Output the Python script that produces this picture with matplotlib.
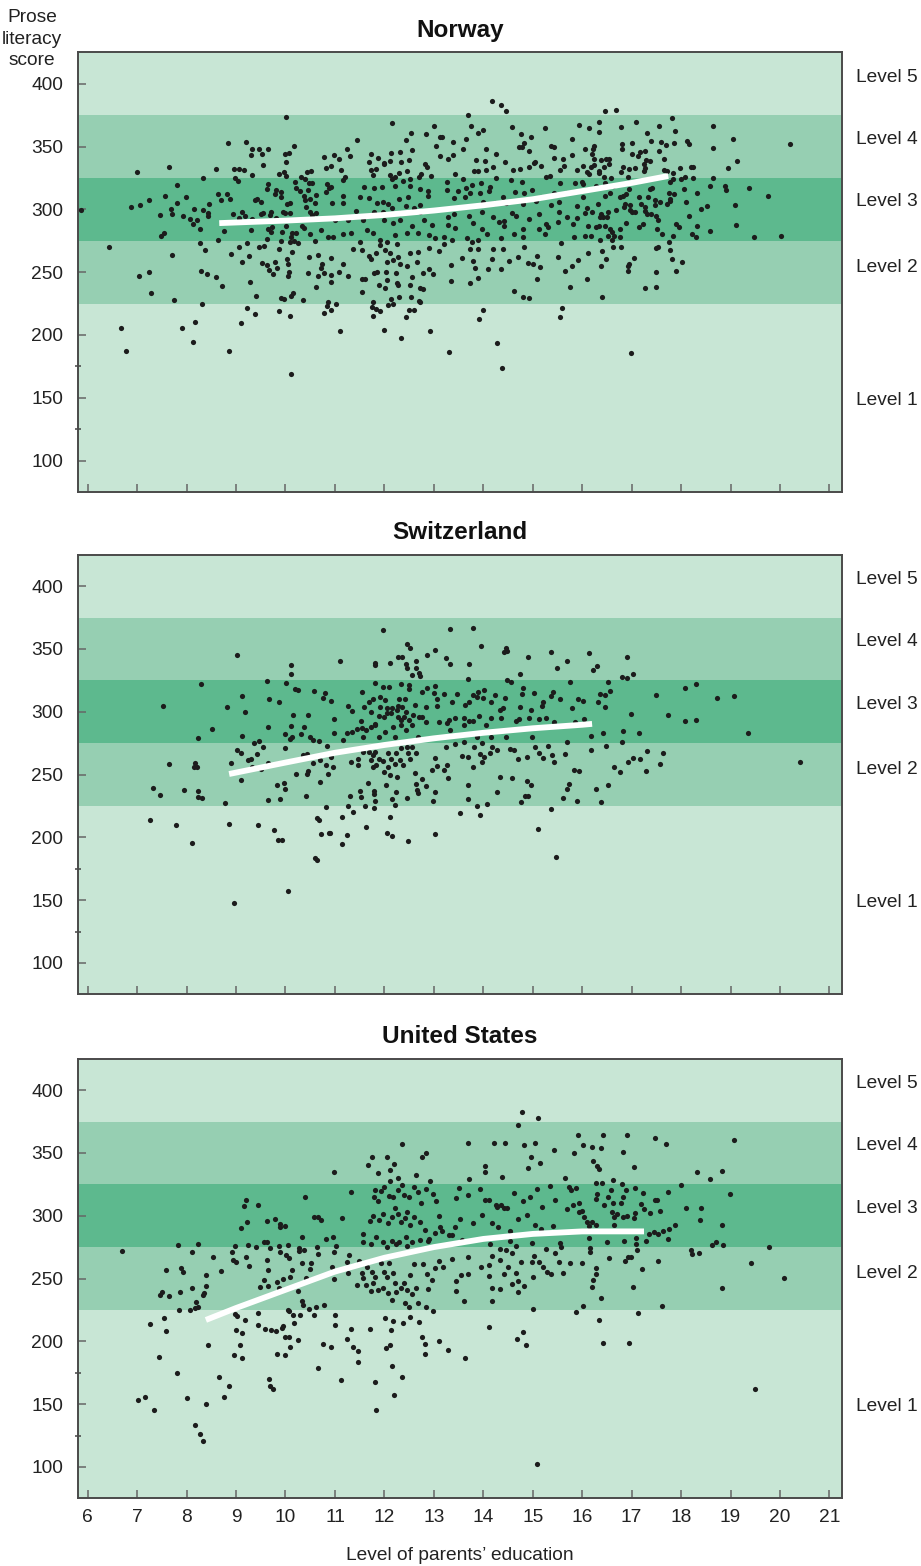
import matplotlib
matplotlib.use("Agg")
import matplotlib.pyplot as plt
import matplotlib.transforms as mtransforms

plt.rcParams['font.family'] = ['Liberation Sans', 'DejaVu Sans']

# ---------------- data ----------------
countries = ["Norway", "Switzerland", "United States"]
level_edges = [0, 225, 275, 325, 375, 500]
level_names = ["Level 1", "Level 2", "Level 3", "Level 4", "Level 5"]
level_label_y = [148, 254, 306, 355.5, 405]
y_ticks = [100, 150, 200, 250, 300, 350, 400]
y_minor = [125, 175]
x_ticks = list(range(6, 22))

norway_points = [
(10.02,373.3),(8.84,352.6),(9.20,353.4),(9.33,348.3),(9.47,347.8),(9.64,348.3),(9.31,343.5),(9.52,344.0),(10.18,350.7),(10.00,344.3),(10.08,344.9),(10.01,338.0),(9.55,335.0),(7.00,329.5),(7.64,333.7),(8.59,331.9),(8.95,332.1),(9.05,332.4),(9.17,331.1),(9.33,327.3),(8.33,325.2),(7.80,319.4),(8.98,324.7),(9.04,322.3),(9.64,319.9),(9.63,316.5),(9.80,315.4),(9.90,314.1),(9.79,312.5),(9.90,309.6),(9.87,328.1),(9.96,329.7),(10.02,326.5),(6.88,301.9),(7.06,303.5),(7.23,307.4),(7.57,310.4),(7.98,310.1),(7.80,304.8),(7.46,295.5),(7.69,300.3),(7.70,296.0),(7.93,294.7),(8.06,292.6),(8.21,291.2),(8.12,288.6),(8.15,300.0),(8.33,299.7),(8.43,297.3),(8.44,294.7),(8.46,304.0),(8.64,312.2),(8.81,312.5),(8.70,307.7),(8.88,308.5),(8.28,284.3),(7.55,281.2),(7.49,278.5),(5.86,299.7),(8.94,296.3),(9.13,297.9),(9.18,294.7),(9.06,292.8),(9.33,292.6),(8.75,283.0),(8.64,275.3),(9.31,283.8),(9.39,307.2),(9.42,308.5),(9.50,305.8),(9.50,296.3),(9.55,297.3),(9.68,295.5),(9.71,298.2),(9.80,292.8),(9.65,284.1),(9.70,282.2),(9.73,286.2),(9.62,276.7),(9.94,297.6),(10.00,296.8),(10.10,297.3),(10.04,304.0),(10.10,304.8),(10.02,287.0),(9.93,282.2),(10.14,281.4),(10.22,280.9),(10.11,277.7),(10.18,274.8),(10.25,273.5),(10.09,273.7),(9.91,274.5),(10.19,322.0),(10.21,317.3),(10.31,326.0),(10.40,324.4),(10.48,320.7),(10.53,320.9),(10.44,329.7),(10.52,330.5),(10.77,341.7),(10.81,333.0),(10.30,314.3),(10.37,310.6),(10.46,315.4),(10.62,311.7),(10.40,307.2),(10.49,308.2),(10.41,301.9),(10.60,305.3),(10.50,298.2),(10.62,297.3),(10.54,295.5),(10.83,320.2),(10.82,313.5),(10.87,317.0),(10.33,286.7),(10.38,284.9),(10.50,280.6),(10.71,283.8),(10.60,275.1),(10.85,278.2),(8.27,272.9),(8.37,267.4),(8.90,264.5),(9.05,269.7),(9.22,272.9),(9.27,262.6),(9.13,258.4),(9.46,270.3),(9.57,271.1),(9.87,268.7),(7.70,264.0),(6.44,269.9),(9.52,257.4),(9.62,255.4),(9.79,258.4),(9.83,253.3),(9.67,251.4),(9.75,248.8),(10.04,260.5),(10.06,256.2),(10.14,266.3),(10.07,250.4),(10.06,247.0),(10.48,261.8),(10.66,263.4),(10.73,256.5),(10.72,253.3),(10.78,249.1),(10.65,247.0),(10.46,249.1),(10.62,237.9),(7.04,246.7),(7.23,250.1),(7.28,233.4),(7.74,227.6),(8.30,250.9),(8.41,248.3),(8.59,246.2),(8.72,239.2),(9.29,241.9),(9.41,230.7),(9.90,229.4),(9.96,228.3),(10.11,231.3),(10.16,233.4),(10.35,227.8),(8.32,224.4),(10.85,226.0),(10.83,223.3),(10.78,217.7),(9.23,221.7),(9.38,216.4),(9.86,219.1),(10.09,215.1),(9.11,209.5),(6.67,205.8),(7.91,205.3),(8.18,210.3),(8.12,194.6),(6.77,187.2),(8.85,187.5),(10.12,168.6),
(14.18,386.5),(14.36,383.3),(14.46,378.3),(13.69,374.8),(12.16,369.0),(13.01,366.4),(13.76,366.6),(13.99,363.2),(13.90,361.0),(14.59,365.6),(15.24,364.5),(15.94,367.4),(12.53,360.8),(12.84,360.0),(13.12,357.6),(13.17,357.6),(14.76,359.7),(14.96,357.6),(15.80,356.0),(11.45,355.2),(12.44,354.9),(13.39,353.6),(13.66,356.0),(13.05,350.7),(14.82,352.6),(14.72,349.4),(14.78,349.4),(15.36,350.2),(15.44,349.9),(11.24,348.0),(12.56,347.3),(12.32,346.0),(12.13,344.6),(11.72,344.1),(13.38,343.3),(13.59,347.8),(14.05,347.8),(14.25,344.1),(14.92,346.5),(10.99,343.3),(11.31,342.2),(11.08,340.1),(11.87,340.9),(12.11,338.8),(12.33,337.7),(12.50,339.3),(13.13,342.5),(13.28,339.9),(13.85,339.3),(14.03,338.5),(14.44,338.0),(15.05,337.7),(15.42,341.0),(15.62,339.9),(15.80,343.0),(12.83,336.1),(11.68,337.7),(11.99,337.2),(10.93,334.5),(11.12,331.3),(11.72,331.3),(11.84,332.1),(11.99,335.9),(12.11,327.3),(12.30,328.6),(12.46,330.8),(12.75,328.1),(12.87,333.5),(13.43,328.4),(13.81,330.5),(13.89,330.5),(14.06,331.3),(14.20,333.5),(14.61,331.3),(14.75,332.4),(14.93,334.0),(15.02,337.2),(15.16,334.8),(15.34,326.3),(15.55,331.3),(15.64,334.2),(15.89,331.6),
(11.20,326.0),(11.16,323.1),(11.76,327.1),(12.15,324.4),(12.21,326.0),(12.37,322.9),(12.52,324.4),(12.69,326.0),(12.94,326.3),(13.27,321.8),(13.58,324.2),(13.78,319.4),(13.95,320.7),(14.14,317.5),(14.26,324.7),(14.56,323.4),(14.78,321.5),(14.98,315.4),(15.27,325.5),(15.55,320.7),(15.86,320.7),(10.92,318.0),(11.59,318.0),(11.78,316.7),(11.96,317.5),(12.22,318.6),(12.52,318.6),(12.73,315.9),(12.88,314.9),(13.26,315.4),(13.49,314.6),(13.65,317.2),(13.73,313.0),(13.93,312.7),(14.12,314.6),(14.39,309.6),(14.64,313.5),(14.83,313.3),(15.16,310.1),(15.43,312.7),(15.67,313.0),(11.16,310.6),(11.50,310.1),(11.68,309.3),(11.98,306.1),(12.29,307.9),(12.48,310.1),(12.73,303.7),(12.89,310.9),(13.41,308.8),(13.62,309.6),(14.00,306.1),(14.23,304.8),(14.46,305.3),(14.81,304.0),(15.06,306.4),(15.36,303.4),(15.53,305.6),(15.89,302.9),(10.95,305.3),(11.16,304.8),(11.43,298.7),(11.86,304.8),(12.08,304.3),(12.44,302.9),(12.59,300.8),(12.16,300.8),(11.78,298.2),(11.98,298.2),(12.32,296.8),(12.72,297.9),(13.28,294.2),(13.40,296.3),(13.72,294.7),(13.98,297.6),(14.19,293.6),(14.41,291.0),(14.58,297.3),(14.67,295.0),(14.93,292.0),(15.13,296.3),(15.27,288.3),(15.54,298.2),(15.69,294.2),(15.89,292.8),(11.01,291.5),(11.26,291.5),(11.57,291.5),(11.99,291.5),(12.18,288.9),(12.32,291.5),(12.56,287.0),(12.80,291.5),(12.96,287.3),(13.28,287.5),(13.43,285.4),(13.80,289.4),(13.97,284.1),(14.08,280.4),(14.31,290.2),(14.42,287.0),(14.81,284.4),(15.13,284.4),(15.31,285.7),(15.52,289.7),(15.82,288.1),
(10.97,278.2),(11.17,280.4),(11.33,281.2),(11.64,283.5),(11.76,280.9),(11.91,275.6),(12.05,274.3),(12.21,279.6),(12.45,280.9),(12.67,280.9),(12.91,279.6),(13.03,276.9),(13.21,278.2),(13.36,275.6),(13.68,276.9),(13.77,274.3),(13.89,275.6),(14.36,277.4),(14.63,280.4),(14.81,277.7),(15.25,280.6),(15.58,273.5),(15.83,278.0),(11.51,274.3),(11.91,271.6),(12.01,267.6),(12.25,272.4),(12.11,265.5),(11.54,267.6),(11.36,268.7),(10.92,261.0),(11.68,262.8),(11.84,265.5),(12.18,259.7),(12.28,262.3),(12.52,264.9),(12.67,266.3),(12.91,269.2),(13.11,266.8),(13.21,272.1),(13.73,268.1),(13.89,268.7),(14.20,268.1),(14.40,268.4),(14.51,259.1),(14.71,262.3),(14.82,270.3),(15.09,263.1),(15.51,262.1),(11.16,256.5),(11.72,260.2),(12.05,257.8),(12.32,256.5),(12.46,254.9),(12.65,258.3),(12.24,249.0),(11.86,250.1),(11.78,249.0),(12.03,249.8),(11.08,250.4),(10.93,242.4),(10.93,247.4),(11.27,246.9),(11.54,244.5),(11.61,244.5),(12.06,243.7),(12.25,241.1),(12.56,246.4),(12.79,249.0),(12.90,252.2),(12.98,248.8),(13.34,255.7),(13.56,261.3),(13.80,258.6),(13.84,253.0),(13.89,245.6),(13.73,241.3),(14.10,252.8),(14.18,260.5),(14.36,252.2),(14.90,257.5),(15.00,256.2),(15.15,254.1),(15.09,244.5),(15.66,250.6),(15.80,254.6),(15.92,259.7),(11.55,234.2),(11.89,239.7),(12.01,237.1),(12.28,239.5),(12.52,239.8),(12.73,237.6),(12.79,236.3),(13.34,242.7),(14.63,235.0),(14.80,230.2),(14.93,229.4),(15.76,237.9),(12.30,230.5),(12.53,230.5),(12.13,228.6),(12.69,227.3),(12.72,226.0),(11.03,224.4),(11.76,226.5),(11.74,222.2),(12.07,223.6),(12.18,224.4),(11.84,220.4),(11.91,219.0),(12.50,219.6),(12.60,219.6),(10.93,219.8),(11.76,215.1),(12.44,214.3),(14.00,219.6),(13.91,212.4),(15.60,221.2),(15.56,214.3),(11.10,202.9),(11.99,203.9),(12.34,197.6),(12.92,203.1),(13.31,186.4),(14.28,193.8),(14.38,173.7),
(16.46,378.3),(16.69,379.4),(16.35,369.3),(17.08,369.3),(17.82,372.5),(16.78,365.6),(16.14,364.5),(16.34,361.6),(17.32,361.0),(17.56,366.1),(17.88,362.1),(18.64,366.3),(19.04,356.0),(20.20,351.8),(16.81,352.0),(17.01,352.6),(17.39,354.1),(17.60,353.3),(17.70,350.9),(17.86,352.8),(18.12,354.7),(18.15,351.8),(18.64,348.8),(16.06,348.0),(16.23,350.4),(16.22,348.3),(16.80,348.0),(16.19,344.3),(17.00,343.8),(17.13,342.7),(17.17,345.4),(17.28,346.4),(17.55,346.2),(16.24,340.1),(16.39,339.5),(16.49,339.8),(16.54,340.1),(17.30,339.0),(17.37,338.8),(17.66,340.3),(19.14,338.8),(16.54,336.1),(17.26,335.8),(16.02,334.5),(16.17,334.0),(16.23,335.3),(16.45,333.4),(16.82,334.0),(16.94,331.9),(17.07,332.9),(17.24,330.3),(17.28,332.9),(17.66,331.3),(17.71,330.3),(17.98,333.2),(18.21,333.7),(18.24,333.4),(18.95,332.9),(16.09,330.0),(16.14,328.4),(16.33,330.5),(16.33,328.6),(16.79,330.0),(16.44,326.0),(16.58,325.2),(16.92,325.5),(17.84,328.7),(17.83,324.2),(17.99,324.4),(18.08,326.0),(18.25,325.2),(18.65,324.7),(17.77,321.8),(15.99,321.5),(16.02,319.9),(16.28,318.8),(16.47,320.7),(16.63,318.6),(18.58,318.6),(18.89,318.8),(18.91,315.4),(19.37,316.7),(16.94,316.2),(17.37,316.2),(17.42,317.0),(18.06,316.5),(16.56,313.3),(16.02,309.6),(16.46,310.6),(16.76,309.6),(16.82,310.4),(16.89,312.2),(17.14,310.1),(17.34,309.6),(17.75,313.0),(17.86,312.2),(18.32,313.0),(19.76,310.9),(16.32,304.0),(16.85,302.1),(16.87,304.3),(16.97,303.7),(17.18,304.5),(17.28,302.1),(17.47,307.4),(17.47,303.4),(17.57,305.6),(17.71,304.3),(17.77,308.2),(17.78,306.6),(18.09,306.1),(18.40,300.2),(18.52,302.4),(19.10,303.7),(16.10,300.8),(16.06,297.3),(16.19,298.2),(16.39,296.0),(16.53,297.6),(16.68,299.2),(16.97,299.2),(17.01,297.9),(17.07,297.9),(17.28,298.9),(17.31,296.6),(17.40,296.0),(17.50,294.4),(17.53,291.3),(18.15,294.4),(16.37,293.6),(16.43,294.2),(16.50,294.2),(16.11,286.7),(16.28,286.2),(16.33,286.5),(16.47,286.7),(16.57,284.3),(16.76,284.1),(16.88,289.4),(17.15,285.7),(17.22,288.1),(17.51,284.6),(17.61,280.4),(17.84,279.0),(17.90,288.6),(17.96,285.9),(18.22,280.1),(18.31,278.0),(18.32,287.0),(18.58,282.5),(19.12,287.5),(19.47,277.7),(20.03,278.5),(16.06,278.8),(16.17,278.8),(16.60,281.7),(16.53,278.8),(16.64,278.8),(16.77,278.2),(16.37,275.9),(16.60,275.6),(17.76,274.0),(16.63,269.7),(16.79,270.0),(17.50,269.5),(17.54,270.3),(17.77,267.9),(16.11,265.3),(16.40,266.6),(16.49,260.7),(17.05,261.5),(17.82,260.5),(18.01,257.8),(16.39,255.1),(16.92,255.1),(16.95,256.7),(16.93,250.6),(17.49,249.8),(17.89,250.6),(16.10,244.5),(17.28,237.6),(17.49,238.4),(16.41,230.2),(16.99,185.3),
]

switzerland_points = [
(9.02,345.4),(10.12,337.4),(10.12,329.7),(8.30,321.8),(9.63,324.2),(10.01,322.8),(10.19,317.8),(10.25,317.0),(10.58,316.7),(10.79,314.9),(10.76,311.1),(7.53,304.2),(9.13,312.7),(9.67,310.1),(9.87,307.4),(8.82,303.4),(9.18,300.0),(10.15,297.6),(10.45,297.3),(8.51,286.2),(9.65,288.0),(10.12,288.8),(10.38,287.8),(9.98,282.5),(10.32,282.0),(10.49,280.1),(10.55,277.4),(10.68,276.6),(10.14,279.8),(10.09,278.5),(8.24,279.0),(9.12,280.9),(9.36,275.1),(9.46,276.6),(9.55,271.9),(9.98,271.3),(10.84,272.4),(9.01,269.7),(9.11,267.1),(9.42,266.0),(9.24,261.8),(9.31,262.0),(8.89,259.4),(9.64,259.4),(9.50,254.1),(9.32,256.2),(10.35,265.8),(10.43,266.0),(10.70,261.5),(10.56,259.4),(10.81,257.5),(10.46,253.0),(10.43,250.4),(10.22,250.6),(10.85,250.6),(7.65,258.3),(8.18,258.9),(8.15,256.2),(8.22,255.9),(9.10,245.3),(9.83,241.3),(9.96,243.2),(10.00,238.2),(10.69,244.3),(7.33,239.5),(7.47,233.4),(7.95,237.6),(8.24,236.8),(8.24,232.1),(8.31,231.3),(8.78,227.0),(9.65,229.4),(9.89,230.2),(10.41,233.1),(10.81,224.1),(7.25,213.5),(7.79,209.8),(8.86,210.6),(9.44,209.8),(9.77,205.5),(9.85,198.1),(9.92,197.6),(10.64,215.3),(10.67,214.0),(10.71,202.6),(10.88,203.7),(8.11,195.4),(10.60,183.8),(10.63,181.6),(10.05,157.5),(8.96,147.9),
(11.97,364.7),(13.33,365.5),(13.80,366.6),(12.45,353.6),(12.52,350.9),(13.95,352.3),(14.45,350.4),(14.42,347.8),(14.48,348.3),(15.37,347.2),(11.10,340.6),(11.82,338.7),(11.81,337.4),(12.12,338.7),(12.28,343.8),(12.35,343.5),(12.44,337.9),(12.64,340.6),(12.87,345.4),(13.03,348.8),(13.25,343.0),(13.32,337.7),(13.72,337.7),(14.91,343.2),(15.70,340.3),(15.49,334.5),(12.45,334.7),(12.63,334.7),(12.55,328.9),(12.69,330.8),(12.73,328.1),(14.74,329.7),(13.70,325.7),(14.47,324.9),(14.57,323.9),(15.75,323.6),(11.80,322.6),(11.55,315.9),(11.98,319.4),(12.09,319.6),(12.33,322.0),(12.50,321.2),(12.50,318.3),(12.77,315.6),(12.86,318.8),(13.03,320.4),(13.00,314.9),(13.21,314.3),(13.46,314.3),(13.79,313.5),(13.90,315.9),(14.02,317.5),(14.24,313.5),(14.43,310.9),(14.78,314.3),(14.80,318.6),(15.03,314.9),(15.37,312.7),(15.40,315.4),(15.55,310.1),(15.92,310.1),
(10.93,308.5),(11.27,304.5),(11.35,300.8),(11.59,304.0),(11.68,307.4),(11.76,310.4),(11.91,311.9),(12.01,309.3),(12.15,302.7),(12.05,303.2),(11.92,303.4),(12.28,304.5),(12.35,303.4),(12.42,310.1),(12.29,310.1),(12.25,301.3),(12.44,300.0),(12.61,305.3),(12.85,304.0),(13.07,309.8),(13.07,304.5),(13.36,308.0),(13.64,305.0),(13.72,308.0),(13.87,311.7),(13.99,310.9),(14.15,308.0),(14.34,301.3),(14.39,302.7),(14.74,303.4),(14.97,301.3),(15.19,304.2),(15.20,308.0),(15.79,302.7),(10.99,294.1),(11.53,292.8),(11.73,300.0),(11.82,290.2),(11.73,288.1),(11.90,296.5),(11.99,295.5),(12.05,298.7),(12.13,299.2),(12.28,296.0),(12.34,293.3),(12.40,295.5),(12.49,293.3),(12.57,297.3),(12.69,296.0),(12.76,295.5),(12.85,291.5),(13.11,292.0),(13.26,290.7),(13.30,293.3),(13.43,295.2),(13.60,294.7),(13.60,289.1),(13.72,292.8),(13.79,292.6),(13.92,296.8),(14.05,289.1),(14.16,294.7),(14.35,294.7),(14.67,292.6),(14.73,294.4),(14.93,295.2),(15.13,293.9),(15.27,295.0),(15.43,292.0),(15.85,292.0),
(10.99,283.3),(11.16,277.4),(11.24,282.7),(11.35,284.1),(11.44,285.9),(11.55,287.2),(11.57,279.6),(11.63,285.4),(11.82,289.4),(11.90,280.1),(12.01,283.8),(12.18,288.0),(12.21,279.6),(12.34,289.4),(12.44,285.4),(12.55,289.4),(12.67,279.6),(13.33,285.4),(13.43,274.2),(13.60,276.1),(13.87,279.6),(13.97,275.3),(14.15,280.1),(14.45,279.6),(14.98,280.1),(15.70,276.1),(10.92,264.2),(11.47,262.6),(11.47,257.5),(11.32,259.7),(11.57,268.1),(11.68,268.1),(11.76,265.2),(11.81,268.1),(11.72,261.5),(11.90,262.0),(11.97,260.5),(12.08,266.8),(12.13,262.0),(12.21,258.3),(12.23,266.8),(12.32,261.5),(12.33,270.8),(12.45,271.6),(12.48,266.8),(12.52,262.0),(12.55,272.1),(12.64,267.3),(12.08,256.2),(12.00,252.2),(12.11,249.6),(12.25,247.7),(12.37,257.5),(11.84,257.5),(11.76,255.7),(10.96,255.7),(12.62,251.4),(12.77,246.4),(12.96,253.3),(13.03,263.4),(13.07,257.0),(13.21,253.5),(13.26,257.5),(13.29,247.2),(13.25,271.6),(13.56,264.7),(13.70,264.2),(13.79,255.7),(13.81,272.1),(13.93,266.3),(13.97,260.2),(14.02,263.7),(14.14,267.1),(14.18,272.1),(14.28,269.7),(14.55,270.3),(14.63,269.7),(14.70,262.0),(14.88,264.2),(15.05,272.1),(15.13,267.3),(15.21,263.1),(15.30,272.9),(15.39,265.2),(15.42,260.2),(15.65,266.0),(15.83,253.3),(15.93,252.5),
(11.66,243.5),(11.51,237.1),(11.78,237.1),(11.79,234.4),(11.30,232.8),(11.53,232.3),(11.81,228.9),(11.61,224.9),(11.78,223.3),(11.27,224.9),(11.37,220.1),(11.15,216.1),(12.03,241.3),(12.15,230.2),(12.21,225.9),(12.23,235.8),(12.46,231.3),(12.64,242.1),(12.65,237.4),(12.67,235.5),(12.85,240.5),(12.98,228.9),(13.03,236.0),(12.12,216.1),(11.62,208.4),(10.90,203.7),(11.24,201.8),(11.15,194.9),(12.06,203.7),(12.15,201.3),(12.47,197.3),(13.03,202.9),(13.53,219.3),(13.70,241.6),(13.70,230.2),(13.87,225.2),(13.93,217.7),(14.08,226.7),(14.28,236.0),(14.34,247.7),(14.58,247.4),(14.84,233.1),(14.90,233.1),(14.89,244.8),(14.97,241.9),(14.76,228.1),(15.11,206.3),(15.37,222.2),(15.47,184.0),(15.61,231.0),(15.69,238.5),(15.73,242.1),(15.90,228.9),
(16.13,347.0),(16.90,343.3),(16.30,336.1),(16.22,333.2),(16.81,327.6),(16.91,327.1),(17.03,329.7),(16.53,323.9),(18.08,318.8),(18.31,321.8),(16.36,314.1),(16.47,313.3),(16.57,316.2),(17.49,313.3),(18.73,310.9),(19.08,312.2),(16.01,308.2),(16.31,307.4),(16.47,304.0),(16.99,297.9),(17.73,297.1),(18.08,292.3),(18.31,293.1),(16.04,294.2),(16.18,280.9),(16.42,283.0),(16.83,284.6),(17.14,282.7),(16.80,276.1),(19.36,283.0),(16.49,272.7),(16.18,269.2),(17.31,268.4),(17.64,267.1),(17.02,263.1),(17.16,262.3),(16.93,259.9),(17.58,258.6),(16.65,256.2),(16.76,252.0),(17.30,252.5),(20.41,259.7),(16.27,238.2),(16.53,241.3),(16.39,227.8),
]

us_points = [
(10.39,314.9),(9.21,312.5),(9.16,307.7),(9.44,308.8),(9.11,290.5),(9.23,295.0),(9.62,295.5),(9.78,297.4),(9.89,293.4),(9.89,291.3),(10.00,291.8),(10.58,299.3),(10.66,299.3),(10.71,296.6),(10.33,283.1),(10.81,281.2),(6.69,271.9),(7.82,277.0),(8.24,277.8),(8.10,270.8),(8.97,276.2),(8.92,270.8),(8.53,266.9),(8.70,255.7),(8.94,264.5),(8.99,263.4),(9.21,267.4),(9.24,276.4),(9.40,274.8),(9.56,279.1),(9.63,279.1),(9.69,274.3),(9.87,276.2),(9.88,271.4),(10.05,276.4),(10.02,268.5),(10.08,266.3),(10.28,274.3),(10.38,272.4),(10.27,271.9),(10.64,275.4),(10.65,269.8),(9.26,260.2),(9.62,265.0),(9.65,257.0),(9.57,249.1),(9.49,243.2),(9.64,243.8),(9.82,247.2),(9.86,242.7),(9.94,249.6),(10.09,251.5),(10.14,256.5),(10.33,262.4),(10.52,262.4),(10.49,257.6),(10.42,250.1),(10.25,239.8),(10.34,231.8),(10.35,228.7),(10.47,226.0),(10.61,227.3),(10.78,228.7),(7.58,257.1),(7.88,258.1),(7.93,255.2),(8.39,252.5),(8.39,244.0),(8.36,238.2),(8.33,236.9),(7.47,237.1),(7.51,239.0),(7.65,236.3),(7.87,239.5),(8.10,242.2),(8.20,231.3),(8.24,227.1),(8.18,226.3),(7.85,225.2),(8.06,224.7),(7.55,218.6),(7.25,213.5),(7.59,208.5),(8.97,221.5),(9.01,220.4),(9.19,217.0),(9.44,222.6),(9.44,213.0),(8.99,208.8),(9.13,206.6),(9.59,210.1),(9.71,208.8),(9.80,208.5),(9.92,210.3),(9.94,212.5),(10.05,224.9),(10.07,223.9),(10.16,220.7),(10.29,221.2),(10.58,221.2),(10.17,214.3),(10.08,203.7),(9.98,203.7),(10.25,201.1),(10.10,195.2),(9.82,189.6),(9.98,188.8),(10.76,197.6),(10.65,178.5),(9.08,196.8),(8.95,189.4),(9.13,186.7),(8.44,197.1),(7.45,187.2),(7.80,175.0),(8.66,171.3),(8.85,164.7),(9.67,169.7),(9.68,164.7),(9.75,162.0),(8.76,155.9),(8.01,154.6),(8.39,150.4),(7.02,153.3),(7.16,155.4),(7.35,145.6),(8.18,133.4),(8.28,126.2),(8.33,120.4),
(14.79,382.8),(15.10,378.1),(14.70,372.0),(12.36,357.4),(13.70,357.6),(14.22,358.2),(14.43,358.2),(14.82,356.6),(15.05,357.6),(15.92,364.3),(15.44,352.6),(15.84,350.2),(11.74,347.0),(12.05,347.0),(11.66,340.7),(12.19,341.4),(12.12,336.1),(11.88,334.0),(12.77,346.7),(12.84,349.7),(10.99,334.8),(12.63,332.4),(12.28,329.8),(12.11,327.9),(12.93,327.6),(13.72,329.5),(14.04,339.6),(14.04,335.1),(14.37,330.6),(14.97,347.0),(15.14,342.2),(14.90,337.7),(15.66,330.0),(15.73,323.1),(15.88,321.8),(15.77,320.5),(11.32,318.9),(11.80,320.2),(11.94,320.0),(12.00,323.1),(12.09,315.7),(12.18,314.6),(12.28,320.5),(12.35,324.5),(12.40,316.5),(12.50,314.6),(12.60,323.1),(12.67,318.9),(12.75,309.9),(12.85,321.5),(12.99,317.0),(13.05,311.5),(13.51,322.1),(13.45,314.4),(13.70,316.2),(13.93,321.0),(14.03,312.2),(14.12,312.5),(14.25,308.3),(14.35,308.5),(14.47,305.9),(14.63,317.8),(14.80,311.7),(14.94,314.6),(15.08,321.3),(15.18,307.2),(15.35,323.9),(15.46,312.5),(15.69,305.6),(15.81,308.5),(15.93,310.1),(11.78,314.6),(11.88,311.7),
(11.14,298.5),(11.70,295.8),(11.76,299.8),(11.90,296.6),(11.98,301.4),(12.08,293.9),(12.15,299.3),(12.21,306.4),(12.28,301.4),(12.33,295.3),(12.42,297.9),(12.46,303.2),(12.52,292.6),(12.60,299.3),(12.73,295.3),(12.83,288.6),(12.91,281.2),(13.03,286.0),(13.11,299.8),(13.12,291.3),(13.31,284.9),(13.43,290.8),(13.52,297.1),(13.80,294.5),(13.97,300.3),(14.17,294.5),(14.27,307.2),(14.41,305.9),(14.30,291.3),(14.54,287.8),(14.71,297.1),(14.88,300.6),(15.05,292.3),(15.17,289.2),(15.40,292.1),(15.94,303.0),(10.97,283.1),(11.03,276.2),(10.98,271.4),(11.57,285.2),(11.57,279.4),(11.73,277.2),(11.83,283.3),(11.98,279.4),(12.06,275.4),(12.15,280.1),(12.23,277.5),(12.30,279.4),(12.44,283.3),(12.45,275.9),(12.55,278.8),(12.71,280.7),(12.88,280.1),(13.16,287.6),(13.36,284.7),(13.56,280.7),(14.14,277.5),(14.34,273.5),(14.46,272.7),(14.55,280.1),(14.66,275.6),(14.99,278.0),(15.26,273.5),(15.55,278.0),(15.58,275.4),
(11.28,268.7),(11.49,264.0),(10.95,259.4),(11.24,263.4),(11.27,254.1),(10.98,249.4),(11.54,254.7),(11.44,244.9),(11.57,250.2),(11.65,258.9),(11.74,255.5),(11.76,246.2),(11.81,251.5),(11.73,240.3),(11.63,244.9),(11.94,262.1),(12.00,255.5),(12.05,251.5),(12.10,262.1),(12.18,254.1),(12.21,246.2),(11.88,240.9),(11.98,242.2),(12.08,238.2),(12.15,232.9),(12.23,239.5),(12.33,242.2),(12.40,246.2),(12.46,240.9),(12.52,252.8),(12.56,237.7),(12.42,230.3),(12.50,227.6),(12.67,230.3),(12.64,242.2),(12.87,253.6),(12.97,248.8),(12.89,241.9),(12.84,227.1),(12.99,224.2),(12.59,261.4),(12.79,261.9),(13.03,258.0),(13.11,264.0),(13.19,258.9),(13.37,265.3),(13.44,248.3),(13.45,240.3),(13.54,252.8),(13.60,231.8),(13.70,266.9),(13.70,253.3),(13.95,259.4),(14.11,261.0),(14.12,252.0),(14.18,268.2),(14.18,242.2),(14.18,231.8),(14.34,265.0),(14.34,241.7),(14.41,253.6),(14.49,259.4),(14.59,270.0),(14.59,245.4),(14.67,254.7),(14.70,248.0),(14.70,239.0),(14.82,244.1),(14.76,262.9),(14.99,263.4),(15.03,268.2),(15.00,251.5),(15.12,263.4),(15.21,259.4),(15.28,255.5),(15.36,253.3),(15.46,270.6),(15.54,262.9),(15.62,254.7),(15.75,262.1),(15.01,225.5),(15.87,223.6),
(11.01,221.0),(11.01,213.0),(11.32,210.1),(10.93,195.2),(11.24,201.6),(11.36,195.7),(11.47,192.3),(11.47,183.5),(11.13,169.5),(11.70,209.8),(12.01,218.3),(12.13,209.0),(12.18,216.4),(12.38,214.9),(12.52,219.6),(12.69,215.1),(12.03,194.4),(12.11,197.1),(12.16,180.4),(11.80,167.4),(12.36,171.6),(12.19,157.6),(11.84,145.1),(12.77,203.7),(12.82,197.9),(12.82,189.6),(13.10,200.3),(13.29,192.8),(13.62,187.0),(14.11,211.4),(14.68,202.1),(14.81,207.7),(14.87,196.8),(15.09,102.1),
(16.42,364.5),(16.91,364.5),(17.48,361.9),(17.70,357.1),(19.08,360.0),(16.02,356.3),(16.20,355.0),(16.39,354.2),(16.83,351.0),(16.21,343.3),(16.29,339.9),(16.35,337.5),(17.05,338.8),(18.33,334.5),(18.58,329.5),(18.83,335.3),(16.27,326.3),(16.41,326.3),(16.62,328.2),(16.80,325.5),(18.00,324.7),(16.58,320.7),(16.88,320.2),(17.07,321.8),(17.22,317.8),(17.73,318.9),(18.98,317.6),(16.30,317.3),(16.27,313.6),(16.53,314.6),(16.82,314.6),(16.78,310.4),(16.62,310.1),(16.44,308.3),(17.18,309.3),(17.48,312.5),(17.51,312.5),(17.26,305.4),(17.37,302.2),(17.57,303.8),(18.10,305.9),(18.41,305.9),(15.99,303.8),(16.03,299.3),(16.61,302.7),(16.71,301.4),(16.65,298.7),(16.82,299.3),(16.91,299.5),(17.05,298.2),(17.07,302.2),(16.09,295.3),(16.20,295.0),(16.27,292.9),(16.14,291.6),(16.64,292.9),(17.88,292.6),(18.38,296.3),(18.82,292.9),(17.36,285.5),(17.45,286.8),(17.54,285.5),(17.64,287.8),(17.76,289.7),(16.13,282.0),(16.51,279.4),(16.85,280.1),(17.09,282.3),(17.09,277.5),(17.30,279.9),(17.74,281.5),(16.15,274.6),(16.16,271.4),(17.10,272.7),(18.20,272.4),(18.22,269.8),(18.37,270.3),(18.63,276.7),(18.70,278.8),(18.85,276.4),(19.78,275.1),(16.55,266.6),(16.93,267.4),(16.99,267.4),(16.87,264.0),(17.53,264.2),(19.41,262.6),(15.99,262.1),(16.28,258.4),(16.28,253.9),(17.21,257.9),(16.22,249.1),(16.19,243.2),(17.02,243.0),(18.82,242.7),(20.08,250.2),(16.39,234.8),(16.01,228.1),(17.62,228.1),(17.12,222.5),(16.33,217.0),(16.43,198.4),(16.94,198.9),(19.49,161.8),
]

# fitted trend curves
norway_trend_x = [8.66, 10.0, 11.0, 12.0, 13.0, 14.0, 15.0, 16.0, 17.0, 17.74]
norway_trend_y = [289.0, 291.0, 292.8, 295.5, 299.0, 303.2, 308.0, 314.5, 321.0, 326.5]
swiss_trend_x = [8.86, 10.0, 11.0, 12.0, 13.0, 14.0, 15.0, 16.0, 16.2]
swiss_trend_y = [250.4, 259.5, 267.3, 273.5, 278.8, 283.2, 286.8, 289.6, 290.3]
us_trend_x = [8.39, 9.0, 10.0, 11.0, 12.0, 13.0, 14.0, 15.0, 16.0, 17.25]
us_trend_y = [217.0, 226.5, 241.0, 255.5, 266.5, 275.0, 281.5, 285.5, 287.5, 287.5]

panels = [
    (norway_points, norway_trend_x, norway_trend_y),
    (switzerland_points, swiss_trend_x, swiss_trend_y),
    (us_points, us_trend_x, us_trend_y),
]

# ---------------- style ----------------
band_colors = ['#c8e6d5', '#96cfb2', '#5db98e', '#96cfb2', '#c8e6d5']
dot_color = '#1c1c1c'
spine_color = '#4a4a4a'
txt_size = 13.8
W, H = 921, 1566
fig = plt.figure(figsize=(W / 100, H / 100), dpi=100)

ax_left = 78.3 / W
ax_width = (842 - 78.3) / W
ax_height = 439.6 / H
ax_bottoms = [1 - 491.9 / H, 1 - 994.3 / H, 1 - 1498.3 / H]

for i, (name, (pts, tx, ty), bottom) in enumerate(zip(countries, panels, ax_bottoms)):
    ax = fig.add_axes([ax_left, bottom, ax_width, ax_height])
    ax.set_xlim(5.81, 21.254)
    ax.set_ylim(75, 425)
    for k in range(5):
        ax.axhspan(level_edges[k], level_edges[k + 1], color=band_colors[k], lw=0, zorder=0)
    xs = [p[0] for p in pts]
    ys = [p[1] for p in pts]
    ax.scatter(xs, ys, s=14, color=dot_color, linewidths=0, zorder=3)
    ax.plot(tx, ty, color='white', lw=4.2, solid_capstyle='butt', zorder=4)

    for sp in ax.spines.values():
        sp.set_color(spine_color)
        sp.set_linewidth(1.4)
    ax.set_yticks(y_ticks)
    ax.set_yticks(y_minor, minor=True)
    ax.set_xticks(x_ticks)
    ax.tick_params(axis='y', which='major', direction='in', length=6, width=1.1,
                   color='#666666', labelsize=txt_size, pad=11, labelcolor='#222222')
    ax.tick_params(axis='y', which='minor', direction='inout', length=5, width=1.1,
                   color='#444444')
    ax.tick_params(axis='x', which='major', direction='in', length=6, width=1.1,
                   color='#666666', labelsize=txt_size, pad=8, labelcolor='#222222')
    ax.tick_params(axis='x', which='minor', length=0)
    if i < 2:
        ax.set_xticklabels([])
    else:
        ax.set_xlabel("Level of parents\u2019 education", fontsize=txt_size, color='#222222',
                      labelpad=15)
    ax.set_title(name, fontsize=17.5, fontweight='bold', pad=11, color='#111111')

    trans = mtransforms.blended_transform_factory(ax.transAxes, ax.transData)
    for lab, ly in zip(level_names, level_label_y):
        ax.text(1.0183, ly, lab, transform=trans, ha='left', va='center',
                fontsize=txt_size, color='#222222', clip_on=False)

fig.text(32 / W, 1 - 39 / H, "Prose\nliteracy\nscore", ha='center', va='center',
         fontsize=txt_size, color='#222222', linespacing=1.35)

fig.savefig("out.png", dpi=100)
